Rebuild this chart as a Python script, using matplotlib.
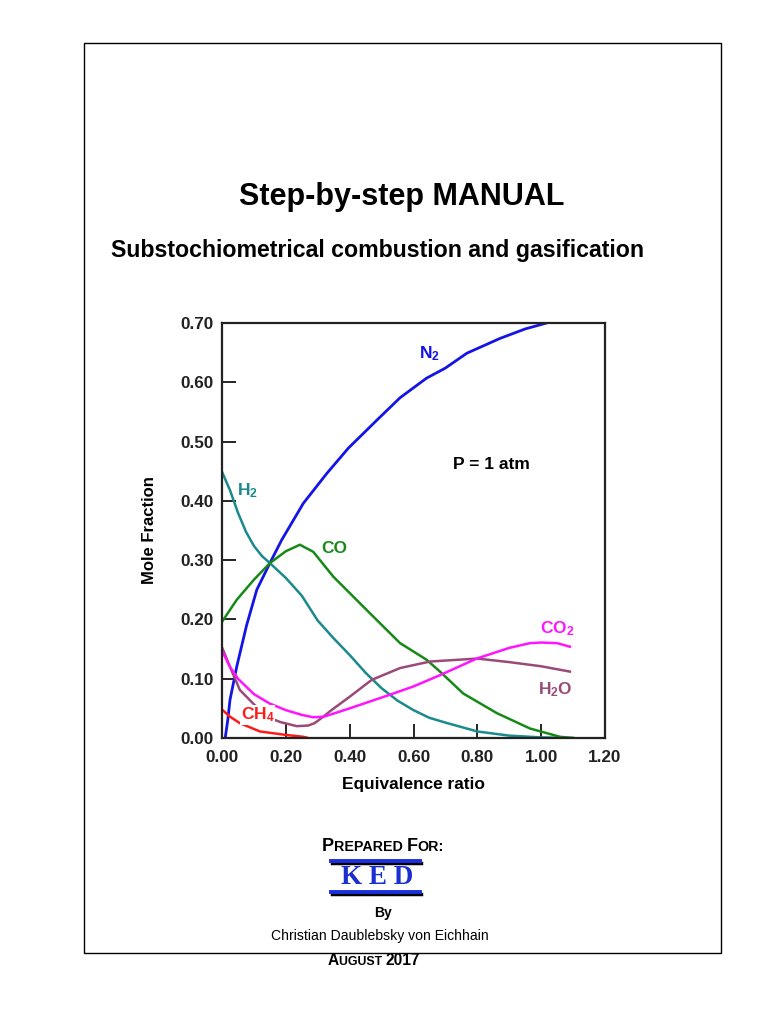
import matplotlib
matplotlib.use("Agg")
import matplotlib.pyplot as plt
from matplotlib.lines import Line2D
from matplotlib.patches import Rectangle

plt.rcParams['font.family'] = ['Liberation Sans', 'DejaVu Sans']
plt.rcParams['mathtext.fontset'] = 'custom'
plt.rcParams['mathtext.rm'] = 'Liberation Sans'
plt.rcParams['mathtext.bf'] = 'Liberation Sans:bold'

# ---- data ----
n2_x = [0.01, 0.018, 0.025, 0.046, 0.077, 0.109, 0.15, 0.187, 0.255, 0.328, 0.396, 0.485,
        0.558, 0.641, 0.7, 0.767, 0.871, 0.95, 1.017]
n2_y = [0.0, 0.03, 0.064, 0.12, 0.19, 0.25, 0.295, 0.334, 0.396, 0.446, 0.489, 0.536,
        0.574, 0.607, 0.624, 0.649, 0.674, 0.69, 0.70]

h2_x = [0.0, 0.025, 0.05, 0.075, 0.1, 0.125, 0.15, 0.2, 0.25, 0.3, 0.35, 0.4, 0.45,
        0.5, 0.55, 0.6, 0.65, 0.7, 0.8, 0.9, 1.0, 1.1]
h2_y = [0.449, 0.418, 0.38, 0.348, 0.324, 0.307, 0.295, 0.270, 0.240, 0.198, 0.168, 0.140,
        0.110, 0.084, 0.063, 0.047, 0.034, 0.026, 0.011, 0.004, 0.001, 0.0]

co_x = [0.0, 0.046, 0.1, 0.15, 0.2, 0.244, 0.286, 0.349, 0.453, 0.558, 0.641, 0.683, 0.756,
        0.861, 0.965, 1.059, 1.1]
co_y = [0.196, 0.233, 0.267, 0.295, 0.315, 0.326, 0.314, 0.272, 0.216, 0.160, 0.132, 0.112,
        0.075, 0.042, 0.016, 0.002, 0.0]

co2_x = [0.0, 0.025, 0.05, 0.1, 0.15, 0.2, 0.25, 0.286, 0.32, 0.4, 0.526, 0.6, 0.683, 0.798,
         0.9, 0.965, 1.0, 1.05, 1.09]
co2_y = [0.147, 0.120, 0.100, 0.074, 0.058, 0.047, 0.039, 0.035, 0.036, 0.050, 0.073, 0.087,
         0.106, 0.134, 0.152, 0.160, 0.161, 0.160, 0.154]

h2o_x = [0.0, 0.025, 0.056, 0.098, 0.14, 0.182, 0.234, 0.27, 0.29, 0.32, 0.338, 0.401, 0.469,
         0.558, 0.652, 0.8, 0.9, 1.0, 1.09]
h2o_y = [0.153, 0.120, 0.081, 0.058, 0.036, 0.027, 0.020, 0.021, 0.025, 0.037, 0.045, 0.070,
         0.098, 0.118, 0.129, 0.134, 0.128, 0.121, 0.112]

ch4_x = [0.0, 0.025, 0.056, 0.119, 0.203, 0.255, 0.27]
ch4_y = [0.048, 0.036, 0.025, 0.011, 0.005, 0.002, 0.0]

x_ticks = [0.0, 0.2, 0.4, 0.6, 0.8, 1.0, 1.2]
x_ticklabels = ['0.00', '0.20', '0.40', '0.60', '0.80', '1.00', '1.20']
y_ticks = [0.0, 0.1, 0.2, 0.3, 0.4, 0.5, 0.6, 0.7]
y_ticklabels = ['0.00', '0.10', '0.20', '0.30', '0.40', '0.50', '0.60', '0.70']

W, H = 768, 1024
fig = plt.figure(figsize=(W / 100, H / 100), dpi=100)

def fx(x):
    return x / W

def fy(y):
    return 1 - y / H

# page border
fig.add_artist(Rectangle((fx(84), fy(953)), (721 - 84) / W, (953 - 43) / H,
                         transform=fig.transFigure, fill=False, ec='black', lw=1.0))

fig.text(fx(402), fy(197), 'Step-by-step MANUAL', ha='center', va='center',
         fontsize=22, fontweight='bold')
fig.text(fx(377.5), fy(251), 'Substochiometrical combustion and gasification', ha='center',
         va='center', fontsize=16.7, fontweight='bold')

# axes
ax = fig.add_axes([222 / W, 1 - 738 / H, (605 - 222) / W, (738 - 323) / H])
ax.plot(n2_x, n2_y, color='#1414e6', lw=2.0, solid_capstyle='round')
ax.plot(h2_x, h2_y, color='#1a8a8c', lw=1.8)
ax.plot(co_x, co_y, color='#168a16', lw=1.8)
ax.plot(h2o_x, h2o_y, color='#9a4a78', lw=1.8)
ax.plot(co2_x, co2_y, color='#ff14ff', lw=1.8)
ax.plot(ch4_x, ch4_y, color='#ff1a1a', lw=1.8)

ax.set_xlim(0, 1.2)
ax.set_ylim(0, 0.7)
ax.set_xticks(x_ticks)
ax.set_xticklabels(x_ticklabels)
ax.set_yticks(y_ticks)
ax.set_yticklabels(y_ticklabels)
ax.tick_params(direction='in', length=10, width=1.2, labelsize=12.3, pad=6)
ax.tick_params(axis='x', pad=9)
for lab in ax.get_xticklabels() + ax.get_yticklabels():
    lab.set_fontweight('bold')
    lab.set_color('#222222')
for s in ax.spines.values():
    s.set_linewidth(1.6)
    s.set_color('#222222')
ax.set_xlabel('Equivalence ratio', fontsize=12.4, fontweight='bold', labelpad=8)
ax.set_ylabel('Mole Fraction', fontsize=12, fontweight='bold', labelpad=17)

lab_kw = dict(fontsize=12.5, ha='center', va='center')
ax.text(0.651, 0.649, r'$\mathbf{N_2}$', color='#1414e6', **lab_kw)
ax.text(0.08, 0.418, r'$\mathbf{H_2}$', color='#1a8a8c', **lab_kw)
ax.text(0.353, 0.320, 'CO', color='#168a16', fontweight='bold', **lab_kw)
ax.text(1.049, 0.185, r'$\mathbf{CO_2}$', color='#ff14ff', **lab_kw)
ax.text(1.044, 0.081, r'$\mathbf{H_2O}$', color='#9a4a78', **lab_kw)
ax.text(0.112, 0.039, r'$\mathbf{CH_4}$', color='#ff1a1a',
        bbox=dict(fc='white', ec='none', pad=0.5), **lab_kw)
ax.text(0.845, 0.461, 'P = 1 atm', color='black', fontweight='bold', **lab_kw)

# small caps helper
def smallcaps(x_center, y, parts, big=9.5, small=7.5):
    fig.canvas.draw()
    r = fig.canvas.get_renderer()
    texts = []
    widths = []
    for t, isbig in parts:
        tt = fig.text(0, fy(y), t, fontsize=big if isbig else small, fontweight='bold',
                      ha='left', va='baseline')
        bb = tt.get_window_extent(renderer=r)
        texts.append(tt)
        widths.append(bb.width)
    total = sum(widths)
    xpos = x_center - total / 2
    for tt, w in zip(texts, widths):
        tt.set_x(fx(xpos))
        xpos += w

smallcaps(383, 851, [('P', True), ('REPARED ', False), ('F', True), ('OR:', False)],
          big=13, small=10.3)

# KED logo
for yy in (861, 892):
    fig.add_artist(Line2D([fx(332), fx(421)], [fy(yy + 2), fy(yy + 2)],
                          transform=fig.transFigure, color='black', lw=2.5))
    fig.add_artist(Line2D([fx(331), fx(420)], [fy(yy), fy(yy)],
                          transform=fig.transFigure, color='#1a2fe0', lw=2.8))
fig.text(fx(377.5), fy(877), 'K E D', ha='center', va='center', fontsize=19.5,
         fontweight='bold', family='Liberation Serif', color='#1a2fd0')

fig.text(fx(383), fy(913), 'By', ha='center', va='center', fontsize=10, fontweight='bold')
fig.text(fx(380), fy(936), 'Christian Daublebsky von Eichhain', ha='center', va='center',
         fontsize=10.1)
smallcaps(374, 965, [('A', True), ('UGUST ', False), ('2017', True)], big=11.2, small=8.9)

fig.savefig('out.png', dpi=100, facecolor='white')
